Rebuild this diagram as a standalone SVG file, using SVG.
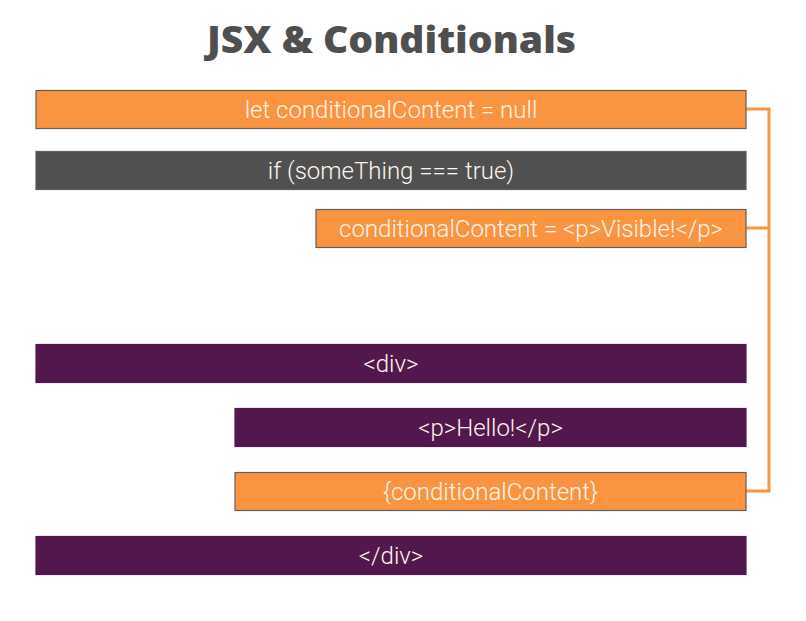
<svg xmlns="http://www.w3.org/2000/svg" width="806" height="621" viewBox="0 0 806 621">
<style>
.title{font-family:"Open Sans","Lato","Liberation Sans",sans-serif;font-weight:800;font-size:37px;fill:#4f4f4f}
.box{stroke:#5f5f5f;stroke-width:1.2}
.org{fill:#fa9440}
.drk{fill:#505050}
.pur{fill:#52174c;stroke:#52174c}
.lbl{font-family:"Roboto","Open Sans","Liberation Sans",sans-serif;font-weight:300;font-size:24px;fill:#fff6ec;text-anchor:middle}
.conn{fill:none;stroke:#fa9440;stroke-width:3}
</style>
<rect width="806" height="621" fill="#ffffff"/>
<text class="title" x="207" y="53" textLength="369" lengthAdjust="spacingAndGlyphs">JSX &amp; Conditionals</text>
<g id="connectors">
<polyline class="conn" points="746,109 769,109 769,491 746,491"/>
<line class="conn" x1="746" y1="228" x2="769" y2="228"/>
</g>
<g id="n1"><rect class="box org" x="36" y="90.5" width="710" height="38"/><text class="lbl" x="391" y="117.5">let conditionalContent = null</text></g>
<g id="n2"><rect class="box drk" x="36" y="151.5" width="710" height="38"/><text class="lbl" x="391" y="178.5">if (someThing === true)</text></g>
<g id="n3"><rect class="box org" x="316" y="209.5" width="430" height="38"/><text class="lbl" x="531" y="236.5">conditionalContent = &lt;p&gt;Visible!&lt;/p&gt;</text></g>
<g id="n4"><rect class="box pur" x="36" y="344.5" width="710" height="38"/><text class="lbl" x="391" y="371.5">&lt;div&gt;</text></g>
<g id="n5"><rect class="box pur" x="235" y="408.5" width="511" height="38"/><text class="lbl" x="490.5" y="435.5">&lt;p&gt;Hello!&lt;/p&gt;</text></g>
<g id="n6"><rect class="box org" x="235" y="472.5" width="511" height="38"/><text class="lbl" x="490.5" y="499.5">{conditionalContent}</text></g>
<g id="n7"><rect class="box pur" x="36" y="536.5" width="710" height="38"/><text class="lbl" x="391" y="563.5">&lt;/div&gt;</text></g>
</svg>
